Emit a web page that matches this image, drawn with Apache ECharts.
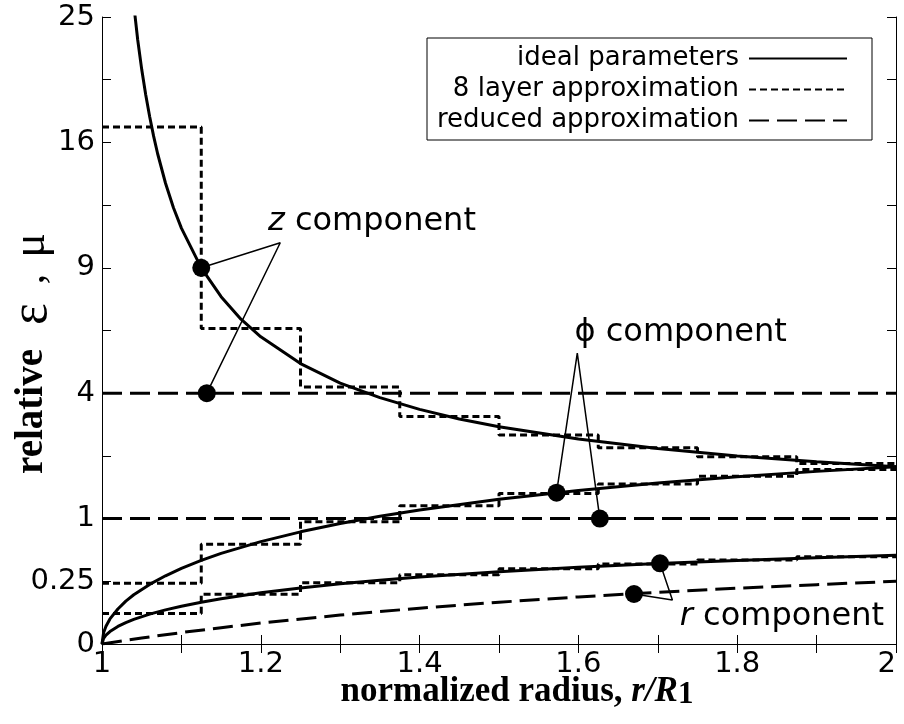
<!DOCTYPE html>
<html>
<head>
<meta charset="utf-8">
<script src="https://cdn.jsdelivr.net/npm/echarts@6/dist/echarts.min.js"></script>
<style>
  html, body { margin: 0; padding: 0; background: #ffffff; }
  #chart { width: 904px; height: 724px; }
</style>
</head>
<body>
<div id="chart"></div>
<script>
// ---- data: relative permittivity / permeability versus normalized radius r/R1 ----

// decreasing ideal curve (z component)
const radiusUpper = [1.035, 1.04, 1.045, 1.05, 1.055, 1.06, 1.065, 1.07, 1.08, 1.09, 1.1, 1.125, 1.15, 1.175, 1.2, 1.25, 1.3, 1.35, 1.4, 1.45, 1.5, 1.6, 1.7, 1.8, 1.9, 2.0];
const idealZ      = [29.6, 26.0, 23.2, 21.0, 19.2, 17.7, 16.4, 15.3, 13.5, 12.1, 11.0, 9.0, 7.67, 6.71, 6.0, 5.0, 4.33, 3.86, 3.5, 3.22, 3.0, 2.67, 2.43, 2.25, 2.11, 2.0];

// rising ideal curves (phi and r components)
const radiusLower = [1.0, 1.002, 1.005, 1.01, 1.02, 1.03, 1.04, 1.06, 1.08, 1.1, 1.125, 1.15, 1.2, 1.25, 1.3, 1.35, 1.4, 1.5, 1.6, 1.7, 1.8, 1.9, 2.0];
const idealPhi    = [0, 0.008, 0.02, 0.04, 0.078, 0.117, 0.154, 0.226, 0.296, 0.364, 0.444, 0.522, 0.667, 0.8, 0.923, 1.037, 1.143, 1.333, 1.5, 1.647, 1.778, 1.895, 2.0];
const idealR      = [0, 0.002, 0.005, 0.0099, 0.0196, 0.0291, 0.0385, 0.0566, 0.0741, 0.0909, 0.111, 0.130, 0.167, 0.2, 0.231, 0.259, 0.286, 0.333, 0.375, 0.412, 0.444, 0.474, 0.5];

// 8 layer approximation (one constant value per layer)
const layerEdges = [1.0, 1.125, 1.25, 1.375, 1.5, 1.625, 1.75, 1.875, 2.0];
const layerZ     = [17.0, 6.33, 4.2, 3.29, 2.78, 2.45, 2.23, 2.07];
const layerPhi   = [0.235, 0.632, 0.952, 1.217, 1.44, 1.63, 1.79, 1.935];
const layerR     = [0.0588, 0.158, 0.238, 0.304, 0.36, 0.407, 0.448, 0.484];

// reduced approximation
const reducedSpan   = [1.0, 2.0];
const reducedZ      = [4, 4];
const reducedPhi    = [1, 1];
const radiusReduced = [1.0, 1.025, 1.05, 1.1, 1.15, 1.2, 1.3, 1.4, 1.5, 1.6, 1.7, 1.8, 1.9, 2.0];
const reducedR      = [0, 0.0006, 0.0023, 0.0083, 0.017, 0.0278, 0.0533, 0.0816, 0.111, 0.141, 0.170, 0.198, 0.224, 0.25];

// callouts: marked points, leader apex and label anchor (r/R1, value)
const zDots     = [[1.125, 9.0], [1.132, 4.0]];
const zApex     = [1.2245, 10.24];
const zLabelAt  = [1.209, 11.32];
const phiDots   = [[1.5725, 1.456], [1.627, 1.0]];
const phiApex   = [1.5986, 5.38];
const phiLabelAt = [1.595, 6.18];
const rDots     = [[1.7028, 0.414], [1.670, 0.159]];
const rApex     = [1.7184, 0.123];
const rLabelAt  = [1.7276, 0.0464];

// axis tick labels
const xTickLabels = [1, 1.2, 1.4, 1.6, 1.8, 2];
const yTickLabels = [0, 0.25, 1, 4, 9, 16, 25];

const legendNames = ['ideal parameters', '8 layer approximation', 'reduced approximation'];

// ---- helpers ----
// the vertical axis is drawn on a square-root scale
const sy = v => Math.sqrt(v);
const pairs = (xs, ys) => xs.map((x, i) => [x, sy(ys[i])]);
const steps = (edges, vals) => {
  const pts = vals.map((v, i) => [edges[i], sy(v)]);
  pts.push([edges[edges.length - 1], sy(vals[vals.length - 1])]);
  return pts;
};
const pt = p => [p[0], sy(p[1])];

const SANS = 'DejaVu Sans';
const SERIF = 'Liberation Serif';
const black = '#000000';

const solid = { color: black, width: 3, type: 'solid' };
const shortDash = { color: black, width: 3, type: [7, 4] };
const longDash = { color: black, width: 3, type: [20, 8] };

function curve(name, data, lineStyle, extra) {
  return Object.assign({
    name: name, type: 'line', data: data, symbol: 'none', showSymbol: false,
    lineStyle: lineStyle, itemStyle: { color: black }, clip: true,
    silent: true, z: 2
  }, extra || {});
}

function leader(dots, apex) {
  return {
    name: 'leader', type: 'line', data: [pt(dots[0]), pt(apex), pt(dots[1])],
    symbol: 'none', lineStyle: { color: black, width: 1.5 }, silent: true, z: 3
  };
}

const series = [
  curve(legendNames[0], pairs(radiusUpper, idealZ), solid),
  curve(legendNames[0], pairs(radiusLower, idealPhi), solid),
  curve(legendNames[0], pairs(radiusLower, idealR), solid),
  curve(legendNames[1], steps(layerEdges, layerZ), shortDash, { step: 'end' }),
  curve(legendNames[1], steps(layerEdges, layerPhi), shortDash, { step: 'end' }),
  curve(legendNames[1], steps(layerEdges, layerR), shortDash, { step: 'end' }),
  curve(legendNames[2], pairs(reducedSpan, reducedZ), longDash),
  curve(legendNames[2], pairs(reducedSpan, reducedPhi), longDash),
  curve(legendNames[2], pairs(radiusReduced, reducedR), longDash),
  leader(zDots, zApex),
  leader(phiDots, phiApex),
  leader(rDots, rApex),
  {
    name: 'marked points', type: 'scatter', symbol: 'circle', symbolSize: 18,
    itemStyle: { color: black, opacity: 1 }, silent: true, z: 4,
    data: zDots.concat(phiDots, rDots).map(pt)
  },
  {
    name: 'callouts', type: 'scatter', symbol: 'circle', symbolSize: 1,
    itemStyle: { color: 'rgba(0,0,0,0)' }, silent: true, z: 5,
    data: [
      { value: pt(zLabelAt), text: '{i|z}{n| component}' },
      { value: pt(phiLabelAt), text: '{n|\u03d5 component}' },
      { value: pt(rLabelAt), text: '{i|r}{n| component}' }
    ],
    label: {
      show: true, position: 'inside', align: 'left', verticalAlign: 'middle',
      color: black, textBorderWidth: 0, opacity: 1,
      formatter: p => p.data.text,
      rich: {
        n: { fontFamily: SANS, fontSize: 32, color: black, textBorderWidth: 0 },
        i: { fontFamily: SANS, fontSize: 32, fontStyle: 'italic', color: black, textBorderWidth: 0 }
      }
    }
  }
];

const near = (a, b) => Math.abs(a - b) < 1e-6;

const axisLineStyle = { lineStyle: { color: black, width: 1 } };
const tickStyle = { show: true, inside: true, length: 9, lineStyle: { color: black, width: 1 } };

const option = {
  animation: false,
  backgroundColor: '#ffffff',
  grid: { left: 102, right: 8, top: 17, bottom: 80, containLabel: false, outerBoundsMode: 'none' },
  legend: {
    data: legendNames,
    orient: 'vertical', align: 'right',
    right: 32, top: 38,
    itemWidth: 98, itemHeight: 14, itemGap: 0,
    padding: [5, 24, 4, 10],
    backgroundColor: '#ffffff', borderColor: black, borderWidth: 1,
    selectedMode: false,
    itemStyle: { color: 'rgba(0,0,0,0)', borderWidth: 0, opacity: 0 },
    formatter: name => '{t|' + name + '}',
    textStyle: {
      fontFamily: SANS, fontSize: 26, color: black, lineHeight: 31,
      rich: { t: { fontFamily: SANS, fontSize: 26, color: black, lineHeight: 31, padding: [0, 5, 0, 0] } }
    }
  },
  xAxis: [
    {
      type: 'value', min: 1, max: 2, interval: 0.1, position: 'bottom',
      axisLine: axisLineStyle, axisTick: tickStyle, splitLine: { show: false },
      axisLabel: {
        fontFamily: SANS, fontSize: 29, color: black, margin: 6, alignMaxLabel: 'right',
        formatter: v => {
          const t = xTickLabels.find(t => near(t, v));
          return t === undefined ? '' : String(t);
        }
      },
      name: '{b|normalized radius, }{bi|r/R}{s|1}',
      nameLocation: 'middle', nameGap: 30, nameMoveOverlap: false,
      nameTextStyle: {
        padding: [0, 0, 0, 36],
        rich: {
          b: { fontFamily: SERIF, fontWeight: 'bold', fontSize: 35, color: black, lineHeight: 36 },
          bi: { fontFamily: SERIF, fontWeight: 'bold', fontStyle: 'italic', fontSize: 35, color: black, lineHeight: 36 },
          s: { fontFamily: SERIF, fontWeight: 'bold', fontSize: 31, color: black, lineHeight: 10, verticalAlign: 'bottom' }
        }
      }
    },
    {
      type: 'value', min: 1, max: 2, interval: 0.1, position: 'top',
      axisLine: axisLineStyle, axisTick: tickStyle, splitLine: { show: false },
      axisLabel: { show: false }
    }
  ],
  yAxis: [
    {
      type: 'value', min: 0, max: 5, interval: 0.5, position: 'left',
      axisLine: axisLineStyle, axisTick: tickStyle, splitLine: { show: false },
      axisLabel: {
        fontFamily: SANS, fontSize: 29, color: black, margin: 7,
        formatter: v => {
          const t = yTickLabels.find(t => near(Math.sqrt(t), v));
          return t === undefined ? '' : String(t);
        }
      },
      name: '{b|relative}{e|\u03b5}{c|,}{m|\u03bc}',
      nameLocation: 'middle', nameGap: 48, nameRotate: 90, nameMoveOverlap: false,
      nameTextStyle: {
        padding: [0, 46, 0, 0],
        rich: {
          b: { fontFamily: SERIF, fontWeight: 'bold', fontSize: 39, color: black, lineHeight: 44, padding: [0, 24, 0, 0] },
          e: { fontFamily: SERIF, fontSize: 52, color: black, lineHeight: 44, padding: [0, 19, 0, 0] },
          c: { fontFamily: SERIF, fontSize: 42, color: black, lineHeight: 44, padding: [0, 16, 0, 0] },
          m: { fontFamily: SERIF, fontSize: 46, color: black, lineHeight: 44 }
        }
      }
    },
    {
      type: 'value', min: 0, max: 5, interval: 0.5, position: 'right',
      axisLine: axisLineStyle, axisTick: tickStyle, splitLine: { show: false },
      axisLabel: { show: false }
    }
  ],
  series: series
};

const chart = echarts.init(document.getElementById('chart'), null, { renderer: 'canvas' });
chart.setOption(option);
</script>
</body>
</html>
